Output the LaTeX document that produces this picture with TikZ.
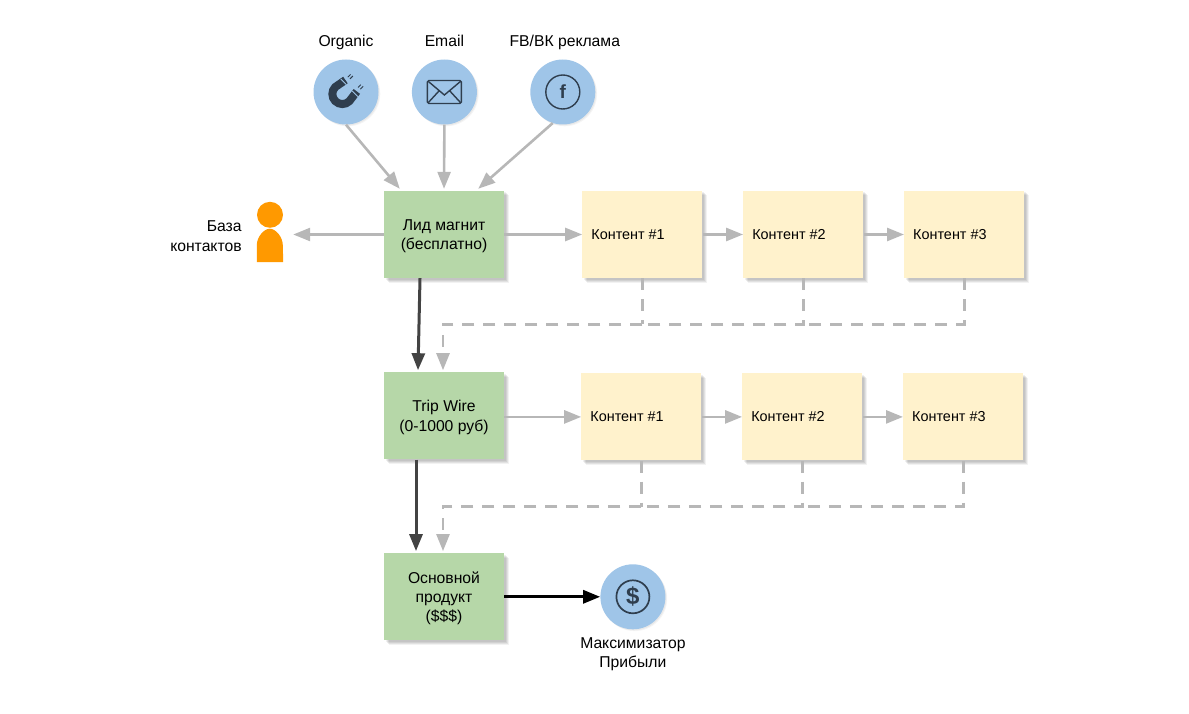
\documentclass[tikz,border=0pt]{standalone}
\usepackage{fontspec}
\setmainfont{Liberation Sans}
\usetikzlibrary{arrows.meta, positioning, shadows, calc}
\definecolor{leadgreen}{HTML}{B6D7A8}
\definecolor{noteyellow}{HTML}{FFF2CC}
\definecolor{roundblue}{HTML}{9FC5E8}
\definecolor{flowgray}{HTML}{B7B7B7}
\definecolor{darkflow}{HTML}{434343}
\definecolor{icondark}{HTML}{2F3E4E}
\definecolor{personorange}{HTML}{FF9900}

\begin{document}
\begin{tikzpicture}[
            x = 1pt, y = -1pt,
            > = {Triangle[length=17pt,width=13pt]}, % arrow head style
            font = \fontsize{15.7}{19.3}\selectfont,
            softshadow/.style = {
                general shadow = {shadow xshift=1.5pt, shadow yshift=-1.5pt, fill=black, opacity=.06},
                general shadow = {shadow xshift=2.5pt, shadow yshift=-2.5pt, fill=black, opacity=.07},
                general shadow = {shadow xshift=3.5pt, shadow yshift=-3.5pt, fill=black, opacity=.07},
                general shadow = {shadow xshift=4.5pt, shadow yshift=-4.5pt, fill=black, opacity=.05}
            },
            roundshadow/.style = {
                general shadow = {shadow xshift=1pt, shadow yshift=-1pt, fill=black, opacity=.05},
                general shadow = {shadow xshift=1.8pt, shadow yshift=-1.8pt, fill=black, opacity=.04}
            },
            stagebox/.style = {fill = leadgreen, minimum width = 120pt, minimum height = 87pt,
                inner sep = 0pt, align = center, text depth = 0pt, softshadow},
            contentbox/.style = {fill = noteyellow, minimum width = 120pt, minimum height = 87pt,
                inner sep = 0pt, softshadow},
            contenttext/.style = {anchor = west, xshift = 9pt, inner sep = 0pt,
                font = \fontsize{14.4}{19.3}\selectfont},
            roundicon/.style = {circle, fill = roundblue, minimum size = 65pt, inner sep = 0pt, roundshadow},
            caption/.style = {inner sep = 0pt, align = center},
            toplabel/.style = {caption, text depth = 3.5pt},
            flow/.style = {->, draw = flowgray, line width = 2.6pt},
            dashflow/.style = {draw = flowgray, line width = 2.6pt, dash pattern = on 12pt off 9pt},
            mainflow/.style = {->, draw = darkflow, line width = 3pt},
            iconline/.style = {draw = icondark, line width = 1.4pt}
        ]

        \useasboundingbox (0,0) rectangle (1189,714);

        % stages
        \node[stagebox] (lead) at (444,234.5) {Лид магнит\\(бесплатно)};
        \node[stagebox, below=94pt of lead] (trip) {Trip Wire\\(0-1000 руб)};
        \node[stagebox, below=93.5pt of trip] (core) {Основной\\продукт\\(\$\$\$)};

        % sources
        \node[roundicon] (organic) at (346,92) {};
        \node[roundicon, right=33pt of organic] (email) {};
        \node[roundicon, right=53pt of email] (social) {};
        \node[toplabel, above=9.5pt of organic] (organiclabel) {Organic};
        \node[toplabel, above=9.5pt of email] (emaillabel) {Email};
        \node[toplabel, above=9.5pt of social, xshift=2pt] (sociallabel) {FB/ВК реклама};

        % contacts
        \node[minimum width=26pt, minimum height=60pt, inner sep=0pt] (contacts) at (270,232) {};
        \fill[personorange] ($(contacts.north)+(0,13)$) circle (13pt);
        \fill[personorange] (contacts.south west) -- ++(0,-17)
            .. controls ++(0,-8) and ++(-6,0) .. ++(13,-16.5)
            .. controls ++(6,0) and ++(0,-8) .. ++(13,16.5)
            -- (contacts.south east) -- cycle;
        \node[caption, align=right, text depth=0pt, left=15pt of contacts, yshift=-4pt] (contactslabel) {База\\контактов};

        % content rows
        \node[contentbox, right=78pt of lead] (a1) {};
        \node[contentbox, right=40.5pt of a1] (a2) {};
        \node[contentbox, right=40.5pt of a2] (a3) {};
        \node[contentbox, right=77pt of trip, yshift=-1pt] (b1) {};
        \node[contentbox, right=40.5pt of b1] (b2) {};
        \node[contentbox, right=40.5pt of b2] (b3) {};
        \foreach \n/\i in {a1/1,a2/2,a3/3,b1/1,b2/2,b3/3}
            \node[contenttext] (\n text) at (\n.west) {Контент \#\i};

        % profit
        \node[roundicon, right=96pt of core] (profit) {};
        \node[caption, text depth=0pt, below=8pt of profit] (profitlabel) {Максимизатор\\Прибыли};

        % top arrows
        \path (organic.south) edge[flow] ([xshift=16pt,yshift=2pt]lead.north west);
        \path (email.south) edge[flow] ([yshift=2pt]lead.north);
        \path (social.252) edge[flow] ([xshift=-26pt,yshift=2pt]lead.north east);
        \path (lead.west) edge[flow] ([xshift=10pt]contacts.east |- lead.west);

        % content arrows
        \path (lead.east) edge[flow] (a1.west);
        \path (a1.east) edge[flow] (a2.west);
        \path (a2.east) edge[flow] (a3.west);
        \path (trip.east |- b1.west) edge[flow] (b1.west);
        \path (b1.east) edge[flow] (b2.west);
        \path (b2.east) edge[flow] (b3.west);

        % dashed returns
        \coordinate[below=46pt of a1.south] (a1join);
        \coordinate[below=46pt of a2.south] (a2join);
        \coordinate[below=46pt of b1.south] (b1join);
        \coordinate[below=46pt of b2.south] (b2join);
        \draw[dashflow] (a3.south) |- (a2join);
        \draw[dashflow] (a2.south) -- (a2join) -- (a1join);
        \draw[dashflow] (a1.south) -- (a1join);
        \draw[dashflow, ->] (a1join) -| ([xshift=-1pt,yshift=2pt]trip.north);
        \draw[dashflow] (b3.south) |- (b2join);
        \draw[dashflow] (b2.south) -- (b2join) -- (b1join);
        \draw[dashflow] (b1.south) -- (b1join);
        \draw[dashflow, ->] (b1join) -| ([xshift=-1pt,yshift=2pt]core.north);

        % main path
        \draw[mainflow] ([xshift=-24pt]lead.south) -- ([xshift=-26pt,yshift=2pt]trip.north);
        \draw[mainflow] ([xshift=-28pt]trip.south) -- ([xshift=-28pt,yshift=2pt]core.north);
        \draw[mainflow, draw=black] (core.east) -- (profit.west);

        % icons
        \begin{scope}[shift={(email.center)}]
            \draw[iconline, rounded corners=1.5pt] (-17,-11.5) rectangle (17,11.5);
            \draw[iconline] (-16,-10.5) -- (0,3) -- (16,-10.5) (-16,10.5) -- (-5,-1.5) (16,10.5) -- (5,-1.5);
        \end{scope}
        \begin{scope}[shift={(social.center)}]
            \draw[iconline] (0,0) circle (17pt);
            \node[text=icondark, inner sep=0pt] (socialf) {\fontsize{19}{19}\selectfont\bfseries f};
        \end{scope}
        \begin{scope}[shift={(profit.center)}]
            \draw[iconline, line width=1.7pt] (0,0) circle (16.5pt);
            \node[text=icondark, inner sep=0pt] (profitsign) {\fontsize{24}{24}\selectfont\bfseries\$};
        \end{scope}
        \begin{scope}[shift={(organic.center)}, x=1.14pt, y=-1.14pt]
            % horseshoe, open to the upper right
            \draw[icondark, line width=8pt] (-0.5,-10.5) -- (-9.4,-4.4)
                arc[start angle=135, end angle=315, radius=10pt] -- (9.5,-0.5);
            \draw[roundblue, line width=0.8pt] (-4.6,-11.4) -- (0.2,-6.6) (5.6,-0.8) -- (10.4,4);
            \draw[icondark, line width=0.9pt] (1.5,-13) -- (4,-15.5) (3.5,-11.5) -- (6,-14)
                (10.5,-4) -- (13,-6.5) (12.5,-2.5) -- (15,-5);
        \end{scope}
    \end{tikzpicture}
\end{document}
